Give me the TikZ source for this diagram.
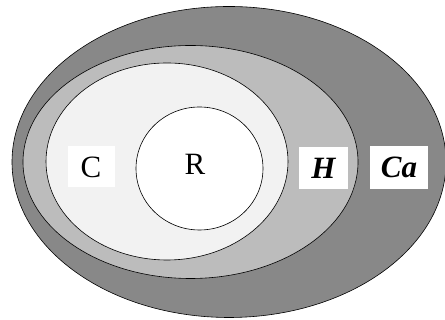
\documentclass[tikz,border=0pt]{standalone}
\usepackage{fontspec}
\setmainfont{Liberation Serif}
\usetikzlibrary{shapes.geometric}
\definecolor{outergray}{HTML}{888888}
\definecolor{midgray}{HTML}{BCBCBC}
\definecolor{innergray}{HTML}{F2F2F2}
\begin{document}
\begin{tikzpicture}[x=1pt,y=1pt,
  ring/.style={ellipse,draw=black,line width=0.6pt,inner sep=0pt},
  lbl/.style={fill=white,inner sep=0pt,font=\fontsize{31}{31}\selectfont},
  blbl/.style={lbl,font=\fontsize{31}{31}\selectfont\bfseries\itshape}]
\useasboundingbox (0,0) rectangle (445,320);
\node[ring,fill=outergray,minimum width=434pt,minimum height=311pt] (ca) at (229,158) {};
\node[ring,fill=midgray,minimum width=335pt,minimum height=233pt] (h) at (190.5,158) {};
\node[ring,fill=innergray,minimum width=242pt,minimum height=197pt] (c) at (167,158.5) {};
\node[ring,fill=white,minimum width=127pt,minimum height=123pt] (r) at (199.5,151.5) {};
\node[lbl,fill=white,minimum width=47pt,minimum height=41pt] (cl) at (91,153) {C};
\node[font=\fontsize{31}{31}\selectfont] (rl) at (195,156) {R};
\node[blbl,minimum width=49pt,minimum height=42pt] (hl) at (323.5,152) {H};
\node[blbl,minimum width=58pt,minimum height=43pt] (cal) at (399,152.5) {Ca};
\end{tikzpicture}
\end{document}
